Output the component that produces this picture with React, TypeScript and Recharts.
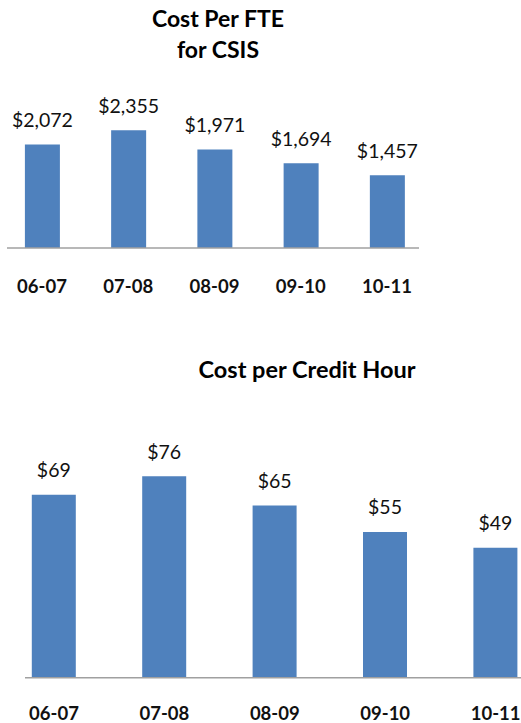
import React from 'react';
import { BarChart, Bar, XAxis, YAxis, LabelList } from 'recharts';

const years = ['06-07', '07-08', '08-09', '09-10', '10-11'];
const costPerFte = [2072, 2355, 1971, 1694, 1457];
const costPerCreditHour = [69, 76, 65, 55, 49];

const fteData = years.map((y, i) => ({ year: y, value: costPerFte[i] }));
const chData = years.map((y, i) => ({ year: y, value: costPerCreditHour[i] }));

const BLUE = '#4F81BD';
const FONT = 'Lato, "Open Sans", sans-serif';

const fmt = (v: any) => '$' + Number(v).toLocaleString('en-US');

const makeTick = (dy: number) => (props: any) => {
  const { x, y, payload } = props;
  return (
    <text x={x} y={y + dy} textAnchor="middle" fontFamily={FONT} fontWeight={700} fontSize={18.5} fill="#111">
      {payload.value}
    </text>
  );
};

export default function App() {
  return (
    <div style={{ position: 'absolute', left: 0, top: 0, width: 521, height: 723, overflow: 'hidden', background: '#fff' }}>
      <svg width={521} height={723} style={{ position: 'absolute', left: 0, top: 0 }}>
        <text x={218} y={27} textAnchor="middle" fontFamily={FONT} fontWeight={700} fontSize={23} fill="#000">Cost Per FTE</text>
        <text x={218} y={58} textAnchor="middle" fontFamily={FONT} fontWeight={700} fontSize={23} fill="#000">for CSIS</text>
        <text x={307} y={378} textAnchor="middle" fontFamily={FONT} fontWeight={700} fontSize={23.5} fill="#000">Cost per Credit Hour</text>
      </svg>
      <div style={{ position: 'absolute', left: 0, top: 0 }}>
        <BarChart width={521} height={298} data={fteData} margin={{ top: 123, right: 102, bottom: 0, left: 7 }}>
          <XAxis
            dataKey="year"
            height={50}
            tickSize={0}
            tickMargin={0}
            tickLine={false}
            axisLine={{ stroke: '#a0a0a0', strokeWidth: 1.5 }}
            padding={{ left: -8.1, right: -11.1 }}
            tick={makeTick(45)}
            interval={0}
          />
          <YAxis hide domain={[0, 2500]} />
          <Bar dataKey="value" fill={BLUE} barSize={35} isAnimationActive={false}>
            <LabelList dataKey="value" position="top" offset={17} formatter={fmt} fontFamily={FONT} fontSize={19.5} fill="#111" />
          </Bar>
        </BarChart>
      </div>
      <div style={{ position: 'absolute', left: 0, top: 400 }}>
        <BarChart width={521} height={323} data={chData} margin={{ top: 65.7, right: 0, bottom: 0, left: 25 }}>
          <XAxis
            dataKey="year"
            height={45.3}
            tickSize={0}
            tickMargin={0}
            tickLine={false}
            axisLine={{ stroke: '#a0a0a0', strokeWidth: 1.5 }}
            padding={{ left: -26.2, right: -29.8 }}
            tick={makeTick(42)}
            interval={0}
          />
          <YAxis hide domain={[0, 80]} />
          <Bar dataKey="value" fill={BLUE} barSize={44} isAnimationActive={false}>
            <LabelList dataKey="value" position="top" offset={17.5} formatter={fmt} fontFamily={FONT} fontSize={19.5} fill="#111" />
          </Bar>
        </BarChart>
      </div>
    </div>
  );
}
